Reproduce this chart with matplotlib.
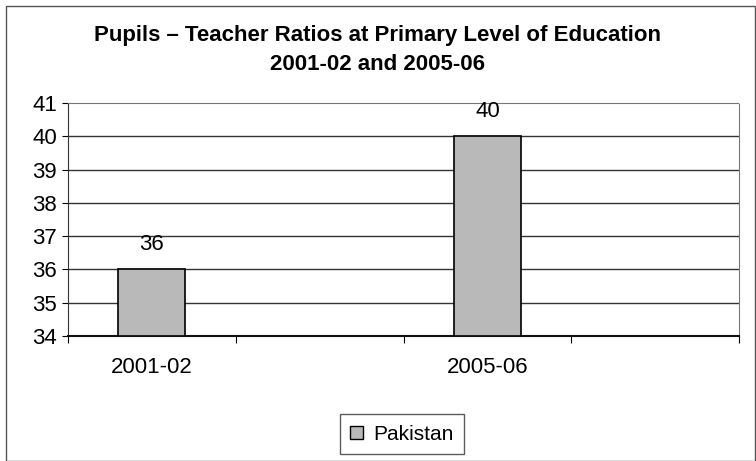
import matplotlib.pyplot as plt
import matplotlib.patches as mpatches

plt.rcParams['font.family'] = ['Liberation Sans', 'DejaVu Sans']

# Data
categories = ['2001-02', '', '2005-06', '']
values = [36, None, 40, None]
series_name = 'Pakistan'

fig = plt.figure(figsize=(7.56, 4.61), dpi=100)
ax = fig.add_axes([68 / 756, 1 - 336 / 461, (739 - 68) / 756, (336 - 103) / 461])

xs = [i for i, v in enumerate(values) if v is not None]
vals = [v for v in values if v is not None]
bars = ax.bar(xs, [v - 34 for v in vals], bottom=34, width=0.4,
              color='#b9b9b9', edgecolor='black', linewidth=1.2, zorder=3)

for x, v in zip(xs, vals):
    ax.text(x, v + 0.75, str(v), ha='center', va='center', fontsize=16)

ax.set_ylim(34, 41)
ax.set_xlim(-0.5, len(categories) - 0.5)
ax.set_yticks(range(34, 42))
ax.tick_params(axis='y', labelsize=16, length=4, direction='out', pad=4)

# category labels centred, ticks on category boundaries
ax.set_xticks([i - 0.5 for i in range(len(categories) + 1)])
ax.set_xticklabels([])
ax.tick_params(axis='x', length=5, direction='out')
for i, c in enumerate(categories):
    ax.text(i, 33.05, c, ha='center', va='center', fontsize=16)

for y in range(35, 41):
    ax.axhline(y, color='#333333', linewidth=1.0, zorder=1)

ax.spines['top'].set_color('#777777')
ax.spines['top'].set_linestyle((0, (1, 1)))
ax.spines['right'].set_color('#777777')
ax.spines['right'].set_linestyle((0, (1, 1)))
ax.spines['left'].set_color('#333333')
ax.spines['bottom'].set_color('#111111')
ax.spines['bottom'].set_linewidth(1.5)

fig.text(0.5, 1 - 36 / 461, 'Pupils – Teacher Ratios at Primary Level of Education',
         ha='center', va='center', fontsize=16, fontweight='bold')
fig.text(0.5, 1 - 64 / 461, '2001-02 and 2005-06',
         ha='center', va='center', fontsize=16, fontweight='bold')

handle = mpatches.Patch(facecolor='#b9b9b9', edgecolor='black', label=series_name)
leg = fig.legend(handles=[handle], loc='center', bbox_to_anchor=(402 / 756, 1 - 434 / 461),
                 fontsize=15, frameon=True, fancybox=False, edgecolor='#333333',
                 handlelength=0.6, handleheight=0.6, handletextpad=0.5, borderpad=0.5)
leg.get_frame().set_linewidth(1.0)

# outer chart border
fig.patches.append(mpatches.Rectangle((6 / 756, 0.0), 1 - 7 / 756, 1 - 6 / 461,
                                      transform=fig.transFigure, fill=False,
                                      edgecolor='#555555', linewidth=1.0))

plt.savefig('out.png', dpi=100)
